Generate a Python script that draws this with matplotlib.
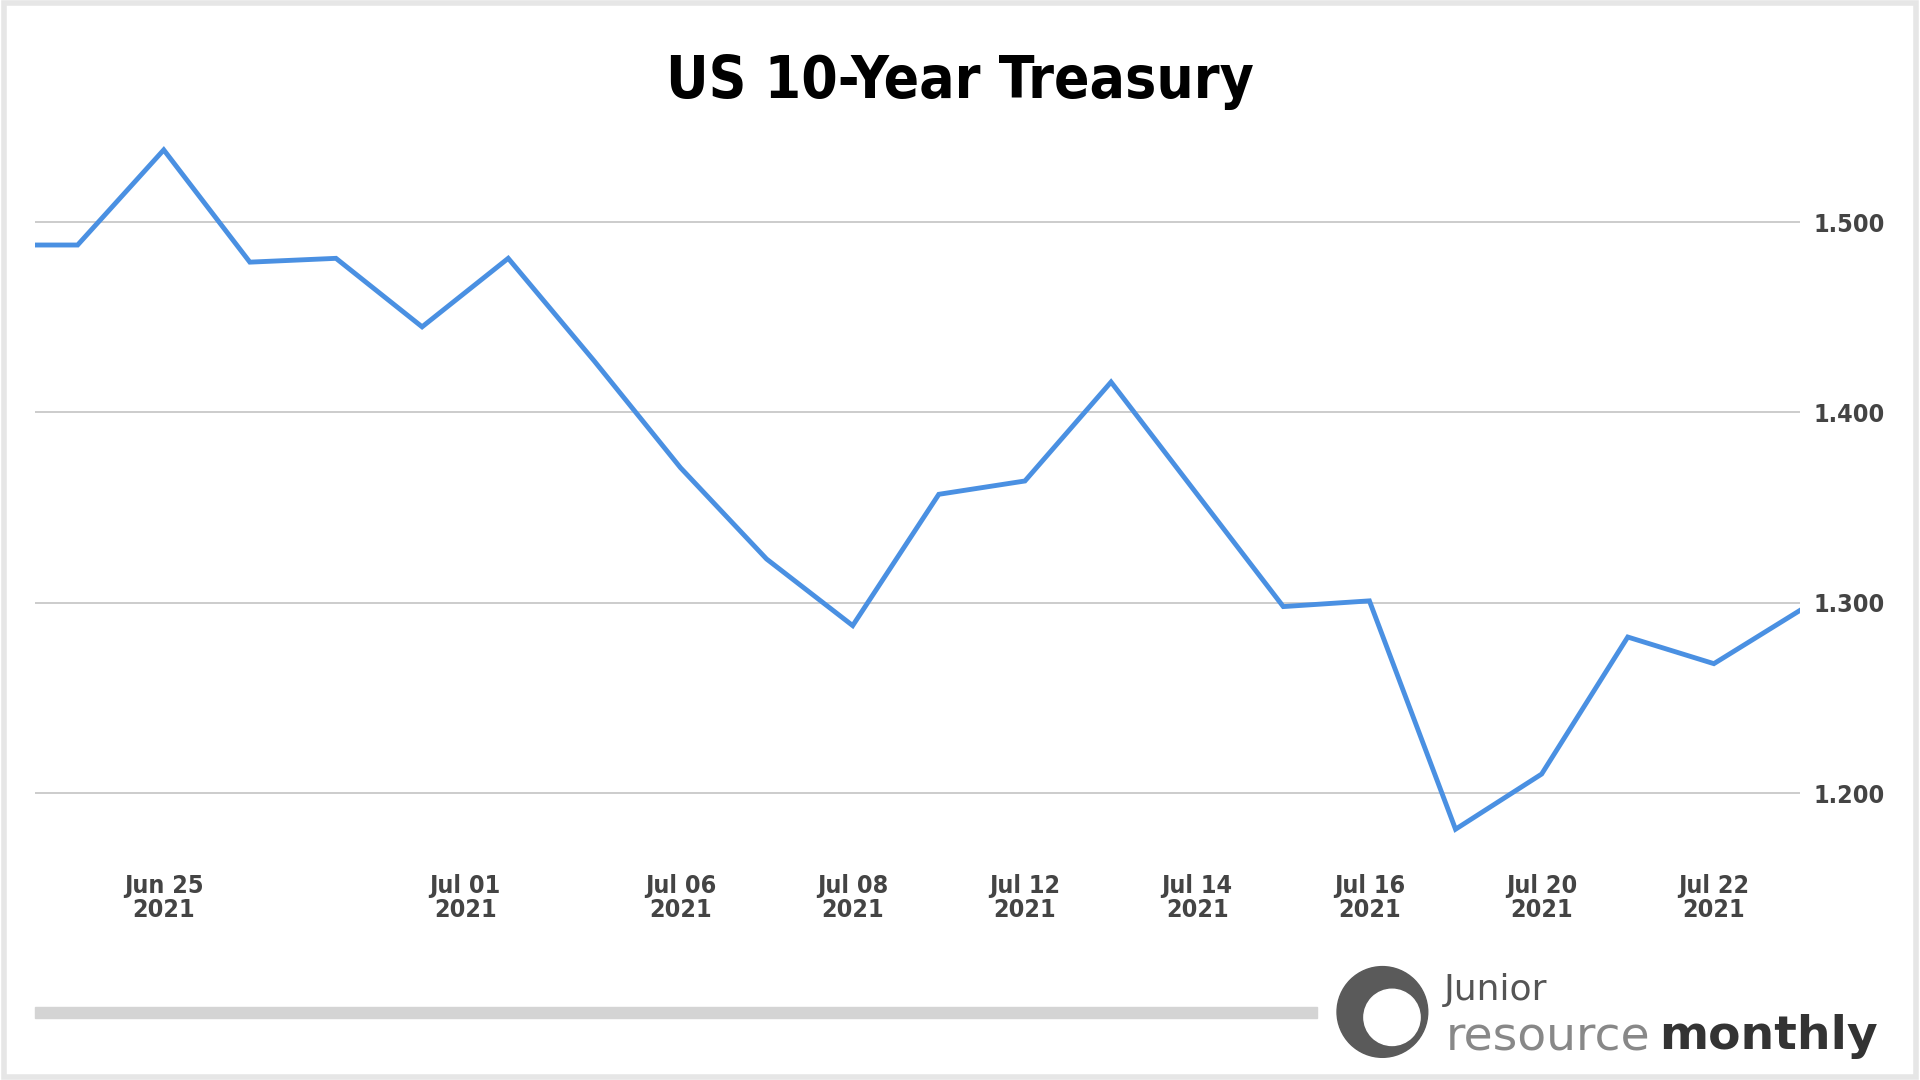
import matplotlib
matplotlib.use("Agg")
import matplotlib.pyplot as plt
from matplotlib.patches import Rectangle, Ellipse

# trading days, x index (first point is half a step before Jun 24)
xs = [-0.5, 0, 1, 2, 3, 4, 5, 6, 7, 8, 9, 10, 11, 12, 13, 14, 15, 16, 17, 18, 19, 20]
yields = [1.488, 1.488, 1.538, 1.479, 1.481, 1.445, 1.481, 1.427, 1.371, 1.323, 1.288,
          1.357, 1.364, 1.416, 1.357, 1.298, 1.301, 1.181, 1.210, 1.282, 1.268, 1.296]
tick_pos = [1, 4.5, 7, 9, 11, 13, 15, 17, 19]
tick_lab = ["Jun 25\n2021", "Jul 01\n2021", "Jul 06\n2021", "Jul 08\n2021", "Jul 12\n2021",
            "Jul 14\n2021", "Jul 16\n2021", "Jul 20\n2021", "Jul 22\n2021"]
y_ticks = [1.2, 1.3, 1.4, 1.5]

fig = plt.figure(figsize=(19.2, 10.8), dpi=100)
fig.patches.append(Rectangle((0.002, 0.003), 0.996, 0.994, transform=fig.transFigure,
                             fill=False, edgecolor="#e6e6e6", lw=4))
ax = fig.add_axes([0.018, 0.204, 0.9195, 0.696])
ax.plot(xs, yields, color="#4a90e2", lw=3.5, solid_joinstyle="miter")
ax.set_xlim(-0.5, 20)
ax.set_ylim(1.165, 1.56)
ax.set_yticks(y_ticks)
ax.set_yticklabels(["%.3f" % v for v in y_ticks])
ax.yaxis.tick_right()
ax.grid(axis="y", color="#c8c8c8", lw=1.3)
ax.set_xticks(tick_pos)
ax.set_xticklabels(tick_lab, linespacing=1.0)
for s in ax.spines.values():
    s.set_visible(False)
ax.tick_params(length=0, labelsize=18, colors="#444444", pad=10)
for t in ax.get_xticklabels() + ax.get_yticklabels():
    t.set_fontweight("bold")
    t.set_fontstretch("condensed")

fig.text(0.5, 0.925, "US 10-Year Treasury", ha="center", va="center", fontsize=42,
         fontweight="bold", fontstretch="condensed", family="DejaVu Sans", color="black")

# footer bar and logo
fig.patches.append(Rectangle((0.018, 0.057), 0.668, 0.011, transform=fig.transFigure,
                             color="#d4d4d4"))
r = 0.042
fig.patches.append(Ellipse((0.720, 0.063), r * 1080 / 1920 * 2, r * 2,
                           transform=fig.transFigure, color="#5a5a5a"))
fig.patches.append(Ellipse((0.725, 0.058), r * 0.62 * 1080 / 1920 * 2, r * 0.62 * 2,
                           transform=fig.transFigure, color="white"))
fig.text(0.752, 0.083, "Junior", fontsize=26, color="#555555", va="center")
fig.text(0.753, 0.040, "resource", fontsize=34, color="#888888", va="center")
fig.text(0.864, 0.040, "monthly", fontsize=34, color="#333333", va="center",
         fontweight="bold")

fig.savefig("out.png", dpi=100)
